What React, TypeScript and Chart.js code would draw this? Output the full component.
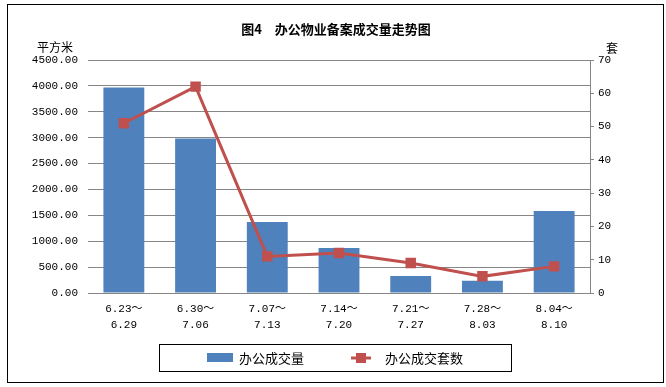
import React, { useEffect, useRef } from "react";
import { Chart, registerables } from "chart.js";

Chart.register(...registerables);

const categories: string[][] = [
  ["6.23～", "6.29"],
  ["6.30～", "7.06"],
  ["7.07～", "7.13"],
  ["7.14～", "7.20"],
  ["7.21～", "7.27"],
  ["7.28～", "8.03"],
  ["8.04～", "8.10"],
];
const areaValues: number[] = [3970, 2985, 1370, 870, 330, 235, 1585];
const countValues: number[] = [51, 62, 11, 12, 9, 5, 8];
const areaLabel = "办公成交量";
const countLabel = "办公成交套数";
const titleText = "图4　办公物业备案成交量走势图";
const leftUnit = "平方米";
const rightUnit = "套";

const BLUE = "#4F81BD";
const RED = "#C0504D";
const GRID = "#868686";
const CJK = "'Noto Sans CJK SC', sans-serif";
const MONO = "'Liberation Mono', 'Noto Sans CJK SC', monospace";

const decorPlugin = {
  id: "decor",
  afterDraw(chart: any) {
    const ctx = chart.ctx;
    ctx.save();
    // outer frame
    ctx.strokeStyle = "#000";
    ctx.lineWidth = 1;
    ctx.strokeRect(7.5, 4.5, 656, 378);
    // title
    ctx.fillStyle = "#000";
    ctx.font = `bold 13px ${CJK}`;
    ctx.textAlign = "center";
    ctx.textBaseline = "middle";
    ctx.fillText(titleText, 336, 29);
    // units
    ctx.font = `12px ${CJK}`;
    ctx.textAlign = "left";
    ctx.fillText(leftUnit, 37, 47);
    ctx.fillText(rightUnit, 606, 48);
    // legend
    const ds = chart.data.datasets;
    ctx.strokeStyle = "#000";
    ctx.strokeRect(159.5, 344.5, 352, 27);
    ctx.font = `13px ${CJK}`;
    ctx.fillStyle = ds[0].backgroundColor;
    ctx.fillRect(207, 353, 26, 9);
    ctx.fillStyle = "#000";
    ctx.fillText(ds[0].label, 239, 358);
    ctx.strokeStyle = ds[1].borderColor;
    ctx.lineWidth = 3;
    ctx.beginPath();
    ctx.moveTo(351, 358);
    ctx.lineTo(371, 358);
    ctx.stroke();
    ctx.fillStyle = ds[1].pointBackgroundColor;
    ctx.fillRect(356, 353, 10, 10);
    ctx.fillStyle = "#000";
    ctx.fillText(ds[1].label, 385, 358);
    ctx.restore();
  },
};

export default function App() {
  const ref = useRef<HTMLCanvasElement>(null);
  useEffect(() => {
    if (!ref.current) return;
    const chart = new Chart(ref.current, {
      type: "bar",
      data: {
        labels: categories as any,
        datasets: [
          {
            type: "bar",
            label: areaLabel,
            data: areaValues,
            backgroundColor: BLUE,
            borderWidth: 0,
            yAxisID: "y",
            categoryPercentage: 1,
            barPercentage: 0.57,
            order: 2,
          } as any,
          {
            type: "line",
            label: countLabel,
            data: countValues,
            borderColor: RED,
            backgroundColor: RED,
            pointBackgroundColor: RED,
            pointBorderColor: RED,
            borderWidth: 3,
            pointStyle: "rect",
            pointRadius: 7.4,
            pointBorderWidth: 0,
            tension: 0,
            yAxisID: "y1",
            order: 1,
          } as any,
        ],
      },
      options: {
        animation: false,
        responsive: false,
        layout: { padding: { left: 0, right: 0, top: 60, bottom: 0 } },
        plugins: {
          legend: { display: false },
          title: { display: false },
          tooltip: { enabled: false },
        },
        scales: {
          x: {
            grid: { display: false, drawTicks: false },
            border: { display: true, color: GRID, width: 1 },
            ticks: {
              autoSkip: false,
              maxRotation: 0,
              padding: 8,
              color: "#000",
              font: { family: MONO, size: 11, lineHeight: "16px" } as any,
            },
            afterFit: (s: any) => {
              s.height = 94;
            },
          },
          y: {
            position: "left",
            min: 0,
            max: 4500,
            grid: { color: GRID, lineWidth: 1, drawTicks: false },
            border: { display: false },
            ticks: {
              stepSize: 500,
              padding: 10,
              color: "#000",
              font: { family: MONO, size: 11 },
              callback: (v: any) => Number(v).toFixed(2),
            },
            afterFit: (s: any) => {
              s.width = 88;
            },
          },
          y1: {
            position: "right",
            min: 0,
            max: 70,
            grid: {
              drawOnChartArea: false,
              color: GRID,
              drawTicks: true,
              tickLength: 4,
            },
            border: { display: true, color: GRID, width: 1 },
            ticks: {
              stepSize: 10,
              padding: 4,
              color: "#000",
              font: { family: MONO, size: 11 },
            },
            afterFit: (s: any) => {
              s.width = 76;
            },
          },
        },
      },
      plugins: [decorPlugin],
    });
    return () => chart.destroy();
  }, []);
  return (
    <div
      style={{
        position: "absolute",
        left: 0,
        top: 0,
        width: 666,
        height: 387,
        background: "#fff",
      }}
    >
      <canvas ref={ref} width={666} height={387} />
    </div>
  );
}
